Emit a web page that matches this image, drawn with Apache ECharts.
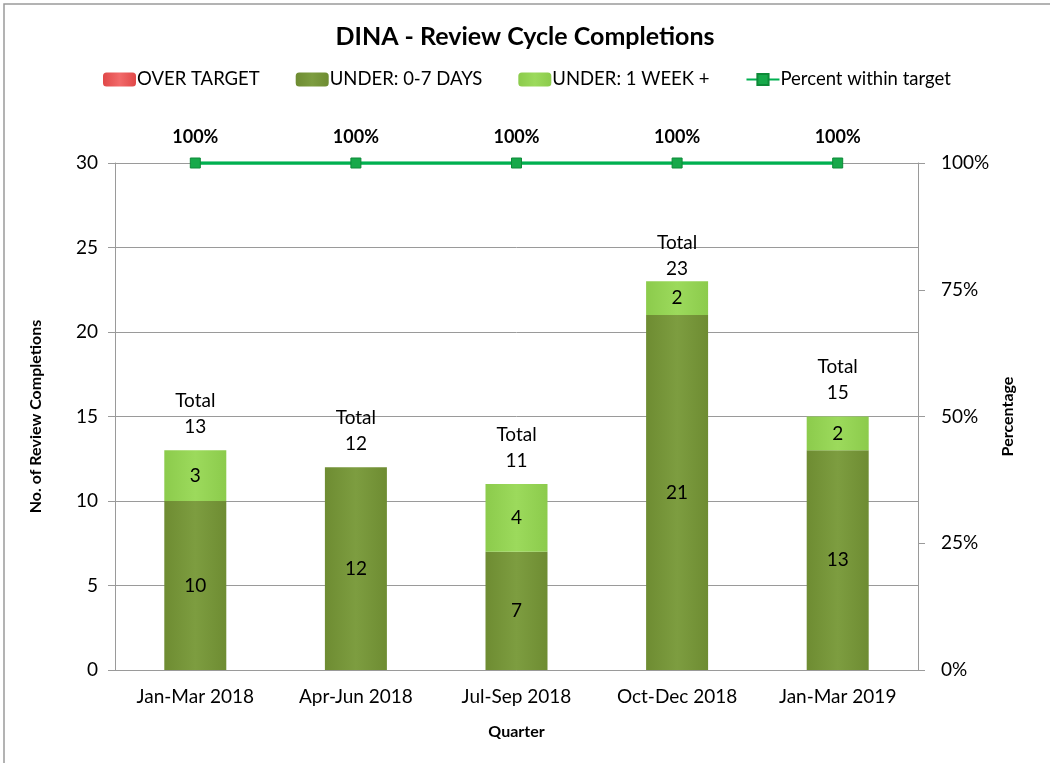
<!DOCTYPE html>
<html lang="en">
<head>
    <meta charset="UTF-8">
    <title>DINA - Review Cycle Completions</title>
    <script src="https://cdn.jsdelivr.net/npm/echarts@6/dist/echarts.min.js"></script>
</head>
<body style="margin:0">
<div id='box' style="width: 1050px;height:763px;"></div>
<script>
    // data
    var quarters = ['Jan-Mar 2018', 'Apr-Jun 2018', 'Jul-Sep 2018', 'Oct-Dec 2018', 'Jan-Mar 2019'];
    var overTarget = [0, 0, 0, 0, 0];
    var under07 = [10, 12, 7, 21, 13];
    var underWeek = [3, 0, 4, 2, 2];
    var pctWithin = [1, 1, 1, 1, 1];
    var leftTicks = {min: 0, max: 30, interval: 5};
    var rightTicks = {min: 0, max: 1, interval: 0.25};

    var totals = quarters.map(function (q, i) {
        return overTarget[i] + under07[i] + underWeek[i];
    });

    var font = 'Lato, "Open Sans", sans-serif';

    function hGrad(edge, mid) {
        return new echarts.graphic.LinearGradient(0, 0, 1, 0, [
            {offset: 0, color: edge},
            {offset: 0.5, color: mid},
            {offset: 1, color: edge}
        ]);
    }

    // the Oct-Dec total label sits closer to its bar in the original
    var totalData = totals.map(function (v, i) {
        return i === 3 ? {value: v, label: {distance: -1}} : v;
    });

    var myChart = echarts.init(document.getElementById('box'));
    var option = {
        textStyle: {fontFamily: font},
        animation: false,
        title: {
            text: 'DINA - Review Cycle Completions',
            left: 'center',
            top: 19,
            textStyle: {fontSize: 25, fontWeight: 'bold', color: '#000', fontFamily: font}
        },
        legend: {
            data: ['OVER TARGET', 'UNDER: 0-7 DAYS', 'UNDER: 1 WEEK +', 'Percent within target'],
            top: 65,
            left: 98,
            itemWidth: 33,
            itemHeight: 14,
            itemGap: 36,
            textStyle: {fontSize: 18.5, color: '#000', padding: [0, 0, 0, -4]}
        },
        graphic: [{
            type: 'rect',
            shape: {x: 4, y: 4, width: 1200, height: 900},
            style: {fill: 'none', stroke: '#9a9a9a', lineWidth: 1.5},
            silent: true
        }],
        grid: {left: 115, right: 132, top: 163, bottom: 93},
        xAxis: {
            type: 'category',
            data: quarters,
            name: 'Quarter',
            nameLocation: 'middle',
            nameGap: 54,
            nameTextStyle: {fontSize: 16, fontWeight: 'bold', color: '#000'},
            axisLine: {lineStyle: {color: '#9a9a9a'}},
            axisTick: {show: false},
            axisLabel: {fontSize: 19, color: '#000', margin: 17}
        },
        yAxis: [{
            type: 'value',
            min: leftTicks.min,
            max: leftTicks.max,
            interval: leftTicks.interval,
            name: 'No. of Review Completions',
            nameLocation: 'middle',
            nameGap: 71,
            nameTextStyle: {fontSize: 16, fontWeight: 'bold', color: '#000'},
            axisLine: {show: true, lineStyle: {color: '#9a9a9a'}},
            axisTick: {show: true, length: 7, lineStyle: {color: '#9a9a9a'}},
            axisLabel: {fontSize: 19, color: '#000', margin: 17},
            splitLine: {lineStyle: {color: '#9a9a9a'}}
        }, {
            type: 'value',
            min: rightTicks.min,
            max: rightTicks.max,
            interval: rightTicks.interval,
            name: 'Percentage',
            nameLocation: 'middle',
            nameGap: 80,
            nameRotate: 90,
            nameTextStyle: {fontSize: 16, fontWeight: 'bold', color: '#000'},
            axisLine: {show: true, lineStyle: {color: '#9a9a9a'}},
            axisTick: {show: true, length: 7, lineStyle: {color: '#9a9a9a'}},
            axisLabel: {
                fontSize: 19, color: '#000', margin: 23,
                formatter: function (v) { return Math.round(v * 100) + '%'; }
            },
            splitLine: {show: false}
        }],
        series: [
            {
                name: 'OVER TARGET',
                type: 'bar',
                stack: 'q',
                barWidth: 62,
                data: overTarget,
                itemStyle: {color: hGrad('#e04848', '#f26a6a')}
            },
            {
                name: 'UNDER: 0-7 DAYS',
                type: 'bar',
                stack: 'q',
                data: under07,
                itemStyle: {color: hGrad('#6e8c32', '#7d9d40')},
                label: {show: true, position: 'inside', fontSize: 19, color: '#000'}
            },
            {
                name: 'UNDER: 1 WEEK +',
                type: 'bar',
                stack: 'q',
                data: underWeek,
                itemStyle: {color: hGrad('#8ccb4c', '#9cda5c')},
                label: {
                    show: true, position: 'inside', fontSize: 19, color: '#000',
                    formatter: function (p) { return p.value ? p.value : ''; }
                }
            },
            {
                name: 'Total',
                type: 'line',
                data: totalData,
                symbol: 'circle',
                symbolSize: 1,
                itemStyle: {color: 'rgba(0,0,0,0)'},
                lineStyle: {opacity: 0},
                label: {
                    show: true, position: 'top', distance: 10,
                    fontSize: 19, color: '#000', lineHeight: 26,
                    formatter: function (p) { return 'Total\n' + p.value; }
                },
                z: 5
            },
            {
                name: 'Percent within target',
                type: 'line',
                yAxisIndex: 1,
                data: pctWithin,
                symbol: 'rect',
                symbolSize: 10,
                itemStyle: {color: '#17a94a', borderColor: '#0e8a38', borderWidth: 1},
                lineStyle: {color: '#00b050', width: 3.5},
                label: {
                    show: true, position: 'top', distance: 11,
                    fontSize: 18, fontWeight: 'bold', color: '#000',
                    formatter: function (p) { return Math.round(p.value * 100) + '%'; }
                },
                z: 6
            }
        ]
    };
    myChart.setOption(option);
</script>
</body>
</html>
